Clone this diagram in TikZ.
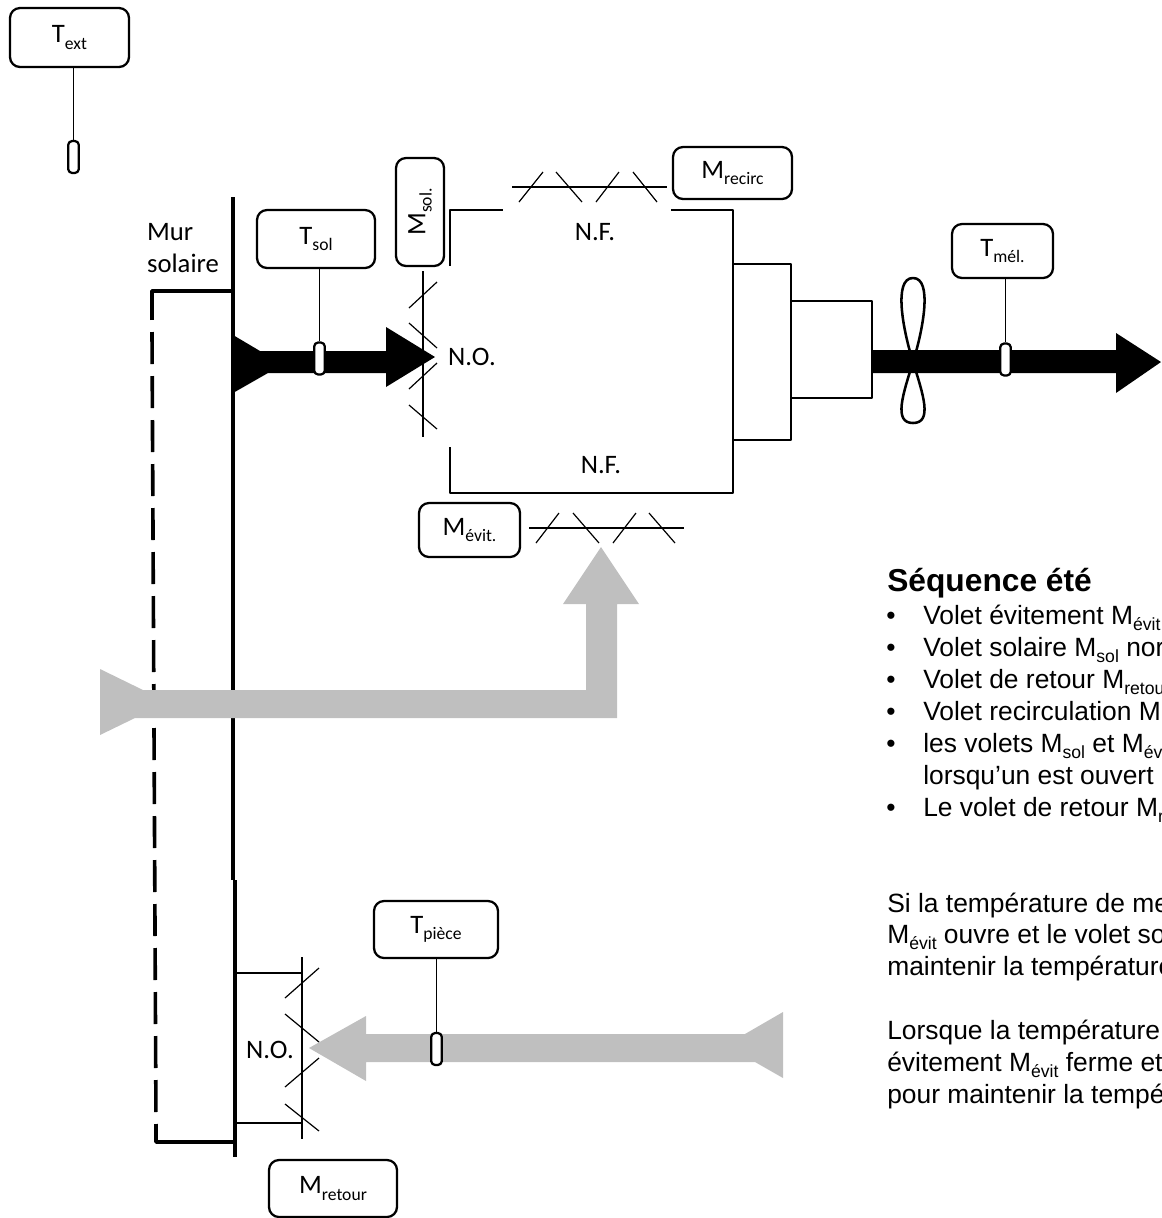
\documentclass[tikz,border=0pt]{standalone}
\usepackage{fontspec}
\setmainfont{Carlito}
\newfontfamily\arialfont{Liberation Sans}
\newcommand{\sbs}[1]{\raisebox{-0.24em}{\fontsize{13.2}{14}\selectfont #1}}

\begin{document}
\begin{tikzpicture}[x=0.75pt, y=-0.75pt, line join=round,
	box/.style 2 args={draw, rounded corners=7.5pt, line width=1.7pt, inner sep=0pt, minimum width=#1*0.75pt, minimum height=#2*0.75pt, font=\fontsize{20}{24}\selectfont},
	sonde/.style={draw, fill=white, rounded corners=3pt, line width=1.7pt, inner sep=0pt, minimum width=8pt, minimum height=24pt},
	etiq/.style={inner sep=0pt, font=\fontsize{20}{24}\selectfont},
	ligne/.style={anchor=base west, inner sep=0pt, font=\arialfont\fontsize{19.8}{24}\selectfont},
	puce/.style={inner sep=0pt, anchor=base, font=\arialfont\fontsize{19.8}{24}\selectfont},
	mince/.style={line width=0.9pt},
	cadre/.style={line width=1.9pt},
	mur/.style={line width=2.7pt}]
	\clip (0,0) rectangle (1161,1218);
	% Mur solaire
	\draw[mur] (233,197) -- (233,880);
	\draw[mur] (235,880) -- (235,1157);
	\draw[mur] (152,320) -- (152,291) -- (233,291);
	\draw[mur, dash pattern=on 24pt off 9pt] (152,332) -- (156,1124);
	\draw[mur] (156,1124) -- (156,1142) -- (235,1142);
	\node[etiq, align=left] (mur) at (183,248) {Mur\\solaire};
	% Caisson et ventilateur
	\draw[cadre] (450,266) -- (450,210) -- (503,210);
	\draw[cadre] (671,210) -- (733,210) -- (733,493) -- (450,493) -- (450,447);
	\draw[cadre] (733,264) rectangle (791,440);
	\draw[cadre] (791,301) rectangle (872,398);
	% Flèches noires
	\fill (233,335) -- (260,351) -- (386,351) -- (386,327) -- (435,357) -- (386,387) -- (386,373) -- (268,373) -- (233,393) -- cycle;
	\fill (872,350) -- (1116,350) -- (1116,333) -- (1161,362) -- (1116,393) -- (1116,373) -- (872,373) -- cycle;
	\draw[cadre] (913,362) .. controls (903,330) and (893,278) .. (913,278) .. controls (933,278) and (923,330) .. (913,362);
	\draw[cadre] (913,362) .. controls (903,394) and (893,423) .. (913,423) .. controls (933,423) and (923,394) .. (913,362);
	% Flèches grises
	\fill[gray!50] (100,669) -- (143,690) -- (586,690) -- (586,604) -- (563,604) -- (601,547) -- (639,604) -- (617,604) -- (617,718) -- (135,718) -- (100,735) -- cycle;
	\fill[gray!50] (783,1012) -- (745,1034) -- (366,1034) -- (366,1016) -- (309,1048) -- (366,1081) -- (366,1062) -- (755,1062) -- (783,1078) -- cycle;
	% Volets
	\draw[mince] (423,271) -- (423,437);
	\foreach \ya/\yb in {308/282, 323/348, 389/363, 405/429}
		\draw[mince] (409,\ya) -- (437,\yb);
	\draw[mince] (512,187) -- (667,187);
	\foreach \xa/\xb/\ya/\yb in {519/543/202/172, 556/582/172/202, 596/619/202/172, 633/657/172/202}
		\draw[mince] (\xa,\ya) -- (\xb,\yb);
	\draw[mince] (529,528) -- (684,528);
	\foreach \xa/\xb/\ya/\yb in {536/559/543/513, 573/599/513/543, 613/636/543/513, 649/675/513/543}
		\draw[mince] (\xa,\ya) -- (\xb,\yb);
	\draw[mince] (302,957) -- (302,1139);
	\draw[mince] (235,973) -- (302,973);
	\draw[mince] (235,1123) -- (302,1123);
	\foreach \ya/\yb in {998/968, 1014/1042, 1087/1058, 1104/1131}
		\draw[mince] (285,\ya) -- (319,\yb);
	% Boîtes
	\node[box={119}{59}] (Text) at (69.5,37.5) {T\sbs{ext}};
	\node[box={118}{58}] (Tsol) at (316,239) {T\sbs{sol}};
	\node[box={124}{57}] (Tpiece) at (436,929.5) {T\sbs{pièce}};
	\node[box={101}{54}] (Tmel) at (1002.5,251) {T\sbs{mél.}};
	\node[box={108}{48}, rotate=90] (Msol) at (420,212) {M\sbs{sol.}};
	\node[box={119}{52}] (Mrecirc) at (732.5,173) {M\sbs{recirc}};
	\node[box={101}{54}] (Mevit) at (469.5,530) {M\sbs{évit.}};
	\node[box={128}{57}] (Mretour) at (333,1188.5) {M\sbs{retour}};
	% Sondes
	\node[sonde] (sText) at (73.5,157) {};
	\node[sonde] (sTsol) at (319.5,358.5) {};
	\node[sonde] (sTpiece) at (436.5,1049) {};
	\node[sonde] (sTmel) at (1005.5,359.5) {};
	\draw[mince] (sText.north |- Text.south) -- (sText.north);
	\draw[mince] (sTsol.north |- Tsol.south) -- (sTsol.north);
	\draw[mince] (sTpiece.north |- Tpiece.south) -- (sTpiece.north);
	\draw[mince] (sTmel.north |- Tmel.south) -- (sTmel.north);
	% Étiquettes
	\node[etiq] (nf1) at (595,232) {N.F.};
	\node[etiq] (nf2) at (601,465) {N.F.};
	\node[etiq] (no1) at (472,357) {N.O.};
	\node[etiq] (no2) at (270,1050) {N.O.};
	% Texte
	\node[ligne, font=\arialfont\bfseries\fontsize{23.8}{28}\selectfont] (titre) at (887,591) {Séquence été};
	\foreach \n/\y/\t in {a/624/Volet évitement M\sbs{évit}, b/656/Volet solaire M\sbs{sol} nor, c/688/Volet de retour M\sbs{retou}, d/720/Volet recirculation M, e/752/les volets M\sbs{sol} et M\sbs{év}, g/816/Le volet de retour M\sbs{r}} {
		\node[puce] (p\n) at (891,\y) {\textbullet};
		\node[ligne] (l\n) at (923,\y) {\t};
	}
	\node[ligne] (lf) at (923,784) {lorsqu’un est ouvert};
	\node[ligne] (si1) at (887,912) {Si la température de me};
	\node[ligne] (si2) at (887,943) {M\sbs{évit} ouvre et le volet so};
	\node[ligne] (si3) at (887,975) {maintenir la température};
	\node[ligne] (lo1) at (887,1039) {Lorsque la température};
	\node[ligne] (lo2) at (887,1071) {évitement M\sbs{évit} ferme et};
	\node[ligne] (lo3) at (887,1103) {pour maintenir la tempé};
\end{tikzpicture}
\end{document}
